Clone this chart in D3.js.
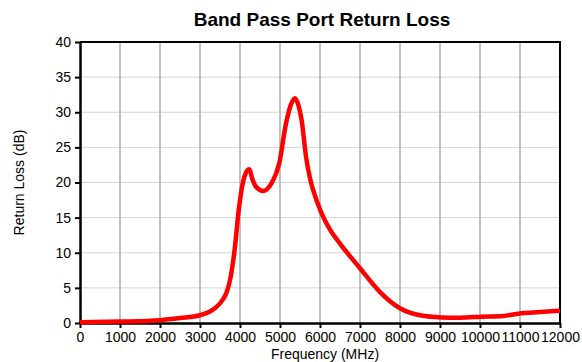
<!DOCTYPE html>
<html>
<head>
<meta charset="utf-8">
<script src="https://cdn.jsdelivr.net/npm/d3@7"></script>
<style>
    body { margin: 0; background: #fff; }
    text { font-family: "Liberation Sans", Arial, sans-serif; }
</style>
</head>
<body>
<div id="chart"></div>
<script>
// frequency (MHz) and return loss (dB)
let freqs = [0, 1000, 2000, 2500, 3000, 3500, 3750, 3875, 3960, 4040, 4120, 4225, 4320, 4400, 4580, 4790, 4980, 5150, 5280, 5375, 5460, 5540, 5650, 5750, 5830, 6040, 6250, 6500, 7000, 7500, 8000, 8500, 9040, 9500, 10040, 10580, 11040, 11330, 12000];
let returnLoss = [0.1, 0.2, 0.4, 0.7, 1.1, 2.8, 6.1, 10.9, 15.7, 19.0, 21.0, 21.9, 20.3, 19.4, 18.8, 19.9, 22.7, 28.4, 31.2, 32.0, 31.0, 28.9, 23.7, 20.6, 18.9, 15.6, 13.3, 11.3, 7.8, 4.4, 2.1, 1.1, 0.8, 0.76, 0.9, 1.0, 1.4, 1.5, 1.75];
let xTicks = [0, 1000, 2000, 3000, 4000, 5000, 6000, 7000, 8000, 9000, 10000, 11000, 12000];
let yTicks = [0, 5, 10, 15, 20, 25, 30, 35, 40];

let data = freqs.map((f, i) => ({f: f, rl: returnLoss[i]}));

let margin = {top: 42, right: 22, bottom: 39, left: 80};
let W = 582, H = 362;
let width = W - margin.left - margin.right,
    height = H - margin.top - margin.bottom;

let svg = d3.select("#chart").append("svg")
    .attr("width", W)
    .attr("height", H);

let g = svg.append("g")
    .attr("transform", "translate(" + margin.left + "," + margin.top + ")");

let x = d3.scaleLinear().domain([0, 12000]).range([0, width]);
let y = d3.scaleLinear().domain([0, 40]).range([height, 0]);

// grid
g.selectAll(".hgrid").data(yTicks.slice(1, -1)).enter().append("line")
    .attr("x1", 0).attr("x2", width)
    .attr("y1", d => y(d)).attr("y2", d => y(d))
    .attr("stroke", "#d4d4d4").attr("stroke-width", 1);

g.selectAll(".vgrid").data(xTicks.slice(1, -1)).enter().append("line")
    .attr("x1", d => x(d)).attr("x2", d => x(d))
    .attr("y1", 0).attr("y2", height)
    .attr("stroke", "#c0c0c0").attr("stroke-width", 2);

// frame (top + right)
g.append("path")
    .attr("d", `M0,0H${width}V${height}`)
    .attr("fill", "none")
    .attr("stroke", "#000")
    .attr("stroke-width", 2);

// axes
let xAxis = d3.axisBottom(x).tickValues(xTicks).tickSize(5).tickSizeOuter(0).tickFormat(d3.format("d"));
let yAxis = d3.axisLeft(y).tickValues(yTicks).tickSize(5).tickSizeOuter(0);

let xg = g.append("g").attr("transform", `translate(0,${height})`).call(xAxis);
let yg = g.append("g").call(yAxis);

[xg, yg].forEach(a => {
    a.select(".domain").attr("stroke", "#000").attr("stroke-width", 2.5);
    a.selectAll(".tick line").attr("stroke", "#000").attr("stroke-width", 2);
    a.selectAll(".tick text")
        .attr("fill", "#000")
        .style("font-size", "14px")
        .style("font-family", "'Liberation Sans', Arial, sans-serif");
});
xg.selectAll(".tick text").attr("y", 9);
yg.selectAll(".tick text").attr("x", -9);

// curve
let line = d3.line()
    .x(d => x(d.f))
    .y(d => y(d.rl))
    .curve(d3.curveMonotoneX);

g.append("path")
    .datum(data)
    .attr("d", line)
    .attr("fill", "none")
    .attr("stroke", "#ff0000")
    .attr("stroke-width", 4.5)
    .attr("stroke-linejoin", "round");

// titles
svg.append("text")
    .attr("x", margin.left + width / 2 + 2)
    .attr("y", 26)
    .attr("text-anchor", "middle")
    .style("font-size", "19px")
    .style("font-weight", "bold")
    .text("Band Pass Port Return Loss");

svg.append("text")
    .attr("x", margin.left + width / 2 + 5)
    .attr("y", 359)
    .attr("text-anchor", "middle")
    .style("font-size", "14px")
    .text("Frequency (MHz)");

svg.append("text")
    .attr("transform", `translate(24,${margin.top + height / 2}) rotate(-90)`)
    .attr("text-anchor", "middle")
    .style("font-size", "14px")
    .text("Return Loss (dB)");
</script>
</body>
</html>
